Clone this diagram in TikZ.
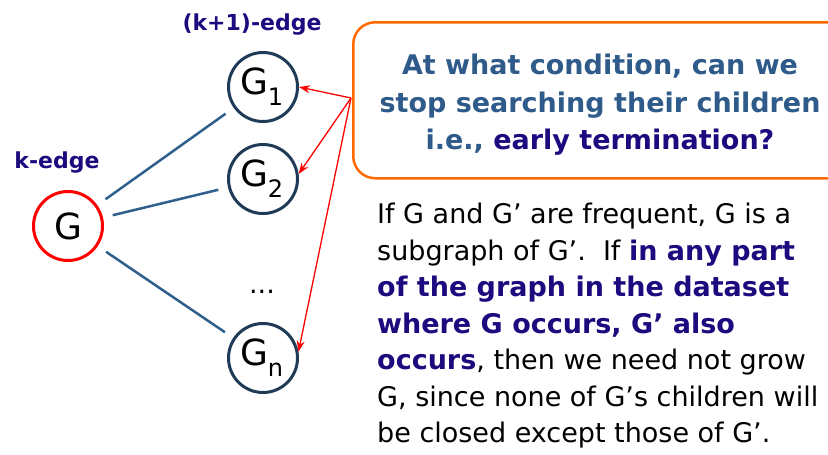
\documentclass[tikz,border=0pt]{standalone}
\usepackage{fontspec}
\setmainfont{DejaVu Sans}
\usetikzlibrary{arrows.meta}
\definecolor{navy}{HTML}{1C0A7E}
\definecolor{qblue}{HTML}{2E5B8A}
\definecolor{boxorange}{HTML}{FF6A00}
\definecolor{circdark}{HTML}{1F3B57}
\definecolor{linkblue}{HTML}{2F5F8C}
\tikzset{
  gnode/.style={circle, draw=circdark, line width=3pt, minimum size=69pt, inner sep=0pt, font=\fontsize{36}{36}\selectfont},
  rootnode/.style={gnode, draw=red},
  link/.style={draw=linkblue, line width=2.5pt, shorten <=10pt, shorten >=10pt},
  pointer/.style={draw=red, line width=1.3pt, -{Stealth[length=11pt,width=8pt]}},
  edgelabel/.style={text=navy, font=\fontsize{22}{22}\selectfont\bfseries},
}
\newcommand{\sub}[1]{\raisebox{-0.3em}{\fontsize{24}{24}\selectfont #1}}
\begin{document}
\begin{tikzpicture}[x=1pt,y=-1pt]
\useasboundingbox (0,0) rectangle (828,455);
% graph nodes
\node[rootnode] (G) at (68,226) {G};
\node[gnode] (G1) at (263,87) {\hspace{-2pt}G\hspace{-1pt}\sub{1}};
\node[gnode] (G2) at (263,179) {\hspace{-2pt}G\hspace{-1pt}\sub{2}};
\node[gnode] (Gn) at (263,358) {\hspace{-2pt}G\hspace{-1pt}\sub{n}};
\node[font=\fontsize{27}{27}\selectfont] (dots) at (262,292) {...};
\node[edgelabel] (kl) at (57,163) {k-edge};
\node[edgelabel] (k1l) at (252,25) {(k+1)-edge};
% links
\draw[link] (G) -- (G1);
\draw[link] (G) -- (G2);
\draw[link] (G) -- (Gn);
% question box
\node[draw=boxorange, line width=2.5pt, rounded corners=22pt, minimum width=520pt, minimum height=156pt, anchor=north west] (box) at (352,21) {};
\node[align=center, text=qblue, font=\fontsize{27}{37.5}\selectfont\bfseries, inner sep=0pt] (q) at (600,105)
  {At what condition, can we\\ stop searching their children\\ i.e., \textcolor{navy}{early termination?}};
\coordinate (src) at (351,98);
\draw[pointer] (src) -- (G1.east);
\draw[pointer] (src) -- (G2.8);
\draw[pointer] (src) -- (Gn.10);
% paragraph
\node[align=left, anchor=north west, inner sep=0pt, font=\fontsize{27}{36.5}\selectfont] (para) at (377,203)
  {If G and G’ are frequent, G is a\\
   subgraph of G’.\ \ If \textcolor{navy}{\bfseries in any part}\\
   \textcolor{navy}{\bfseries of the graph in the dataset}\\
   \textcolor{navy}{\bfseries where G occurs, G’ also}\\
   \textcolor{navy}{\bfseries occurs}, then we need not grow\\
   G, since none of G’s children will\\
   be closed except those of G’.};
\end{tikzpicture}
\end{document}
